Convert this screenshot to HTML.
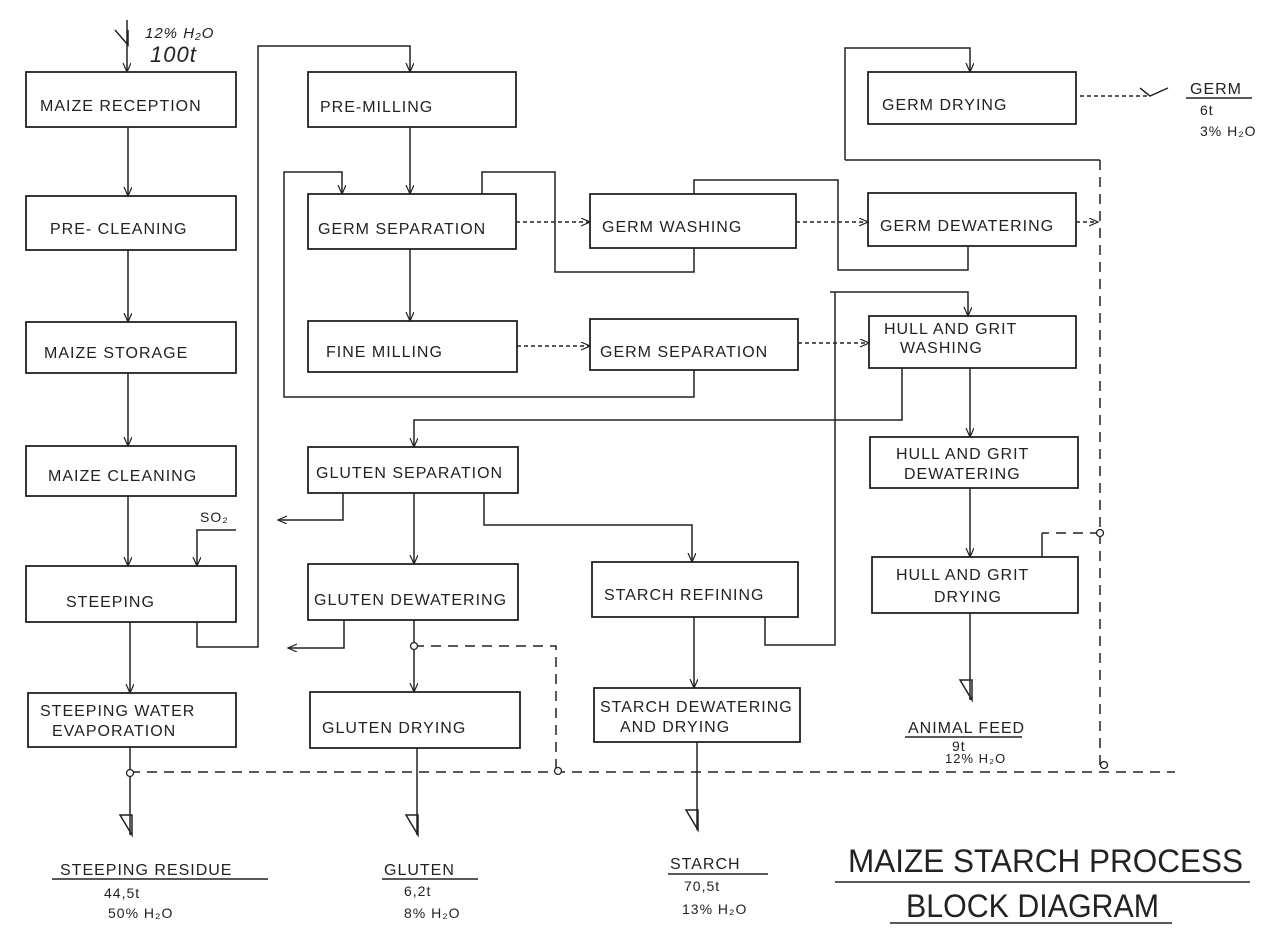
<!DOCTYPE html>
<html><head><meta charset="utf-8"><style>
html,body{margin:0;padding:0;background:#fff}
svg{display:block}
text{font-family:"Liberation Sans",sans-serif;fill:#222;font-size:16px;letter-spacing:1px}
.b{fill:none;stroke:#222;stroke-width:1.8}
.l{fill:none;stroke:#222;stroke-width:1.5}
.d{fill:none;stroke:#222;stroke-width:1.5;stroke-dasharray:10 7}
.s{fill:none;stroke:#222;stroke-width:1.5;stroke-dasharray:4 3}
</style></head><body>
<svg width="1280" height="946" viewBox="0 0 1280 946" xmlns="http://www.w3.org/2000/svg">
<defs><marker id="a" markerWidth="10" markerHeight="10" refX="9" refY="4" orient="auto" markerUnits="userSpaceOnUse"><path d="M0,0 L9,4 L0,8" fill="none" stroke="#222" stroke-width="1.2"/></marker></defs>
<g class="b">
<rect x="26" y="72" width="210" height="55"/><rect x="26" y="196" width="210" height="54"/>
<rect x="26" y="322" width="210" height="51"/><rect x="26" y="446" width="210" height="50"/>
<rect x="26" y="566" width="210" height="56"/><rect x="28" y="693" width="208" height="54"/>
<rect x="308" y="72" width="208" height="55"/><rect x="308" y="194" width="208" height="55"/>
<rect x="308" y="321" width="209" height="51"/><rect x="308" y="447" width="210" height="46"/>
<rect x="308" y="564" width="210" height="56"/><rect x="310" y="692" width="210" height="56"/>
<rect x="590" y="194" width="206" height="54"/><rect x="590" y="319" width="208" height="51"/>
<rect x="592" y="562" width="206" height="55"/><rect x="594" y="688" width="206" height="54"/>
<rect x="868" y="72" width="208" height="52"/><rect x="868" y="193" width="208" height="53"/>
<rect x="869" y="316" width="207" height="52"/><rect x="870" y="437" width="208" height="51"/>
<rect x="872" y="557" width="206" height="56"/>
</g>
<text x="40" y="111">MAIZE RECEPTION</text><text x="50" y="234">PRE- CLEANING</text>
<text x="44" y="358">MAIZE STORAGE</text><text x="48" y="481">MAIZE CLEANING</text>
<text x="66" y="607">STEEPING</text><text x="40" y="716">STEEPING WATER</text><text x="52" y="736">EVAPORATION</text>
<text x="320" y="112">PRE-MILLING</text><text x="318" y="234">GERM SEPARATION</text>
<text x="326" y="357">FINE MILLING</text><text x="316" y="478">GLUTEN SEPARATION</text>
<text x="314" y="605">GLUTEN DEWATERING</text><text x="322" y="733">GLUTEN DRYING</text>
<text x="602" y="232">GERM WASHING</text><text x="600" y="357">GERM SEPARATION</text>
<text x="604" y="600">STARCH REFINING</text><text x="600" y="712">STARCH DEWATERING</text><text x="620" y="732">AND DRYING</text>
<text x="882" y="110">GERM DRYING</text><text x="880" y="231">GERM DEWATERING</text>
<text x="884" y="334">HULL AND GRIT</text><text x="900" y="353">WASHING</text>
<text x="896" y="459">HULL AND GRIT</text><text x="904" y="479">DEWATERING</text>
<text x="896" y="580">HULL AND GRIT</text><text x="934" y="602">DRYING</text>
<path class="l" d="M127,20 V72" marker-end="url(#a)"/><path class="l" d="M115,30 L128,45 L128,30"/>
<text x="145" y="38" style="font-style:italic;font-size:15px">12% H₂O</text>
<text x="150" y="62" style="font-style:italic;font-size:22px">100t</text>
<g class="l">
<path d="M128,127 V196" marker-end="url(#a)"/><path d="M128,250 V322" marker-end="url(#a)"/>
<path d="M128,373 V446" marker-end="url(#a)"/><path d="M128,496 V566" marker-end="url(#a)"/>
<path d="M130,622 V693" marker-end="url(#a)"/>
<path d="M236,530 H197 V566" marker-end="url(#a)"/>
<path d="M197,622 V647 H258 V46 H410 V72" marker-end="url(#a)"/>
<path d="M130,747 V835"/><path d="M120,815 L132,835 L132,815 Z"/>
<path d="M410,127 V194" marker-end="url(#a)"/><path d="M410,249 V321" marker-end="url(#a)"/>
<path d="M694,370 V397 H284 V172 H342 V194" marker-end="url(#a)"/>
<path d="M482,194 V172 H555 V272 H694 V248" />
<path d="M694,194 V180 H838 V270 H968 V246" />
<path d="M845,160 V48 H970 V72" marker-end="url(#a)"/>
<path d="M845,160 H1100"/>
<path d="M830,292 H968 V316" marker-end="url(#a)"/>
<path d="M835,292 V645 H765 V617"/>
<path d="M902,368 V420 H414 V447" marker-end="url(#a)"/>
<path d="M970,368 V437" marker-end="url(#a)"/><path d="M970,488 V557" marker-end="url(#a)"/>
<path d="M970,613 V700"/><path d="M960,680 L972,700 L972,680 Z"/>
<path d="M1042,557 V533" />
<path d="M343,493 V520 H278" marker-end="url(#a)"/>
<path d="M414,493 V564" marker-end="url(#a)"/>
<path d="M484,493 V525 H692 V562" marker-end="url(#a)"/>
<path d="M344,620 V648 H288" marker-end="url(#a)"/>
<path d="M414,620 V692" marker-end="url(#a)"/>
<path d="M417,748 V835"/><path d="M406,815 L418,835 L418,815 Z"/>
<path d="M694,617 V688" marker-end="url(#a)"/>
<path d="M697,742 V830"/><path d="M686,810 L698,830 L698,810 Z"/>
<path d="M1140,88 L1150,96 L1168,88" />
</g>
<g class="s">
<path d="M516,222 H590" marker-end="url(#a)"/><path d="M796,222 H868" marker-end="url(#a)"/>
<path d="M1076,222 H1098" marker-end="url(#a)"/>
<path d="M517,346 H590" marker-end="url(#a)"/><path d="M798,343 H869" marker-end="url(#a)"/>
<path d="M1080,96 H1150"/>
</g>
<g class="d">
<path d="M1100,160 V765"/><path d="M1100,533 H1042"/>
<path d="M414,646 H556 V770"/>
<path d="M130,772 H1175"/>
</g>
<g fill="#fff" stroke="#222" stroke-width="1.3">
<circle cx="130" cy="773" r="3.5"/><circle cx="558" cy="771" r="3.5"/><circle cx="1104" cy="765" r="3.5"/>
<circle cx="1100" cy="533" r="3.5"/><circle cx="414" cy="646" r="3.5"/>
</g>
<text x="200" y="522" style="font-size:14px">SO₂</text>
<text x="60" y="875">STEEPING RESIDUE</text><path class="l" d="M52,879 H268"/>
<text x="104" y="898" style="font-size:14px">44,5t</text><text x="108" y="918" style="font-size:14px">50% H₂O</text>
<text x="384" y="875">GLUTEN</text><path class="l" d="M382,879 H478"/>
<text x="404" y="896" style="font-size:14px">6,2t</text><text x="404" y="918" style="font-size:14px">8% H₂O</text>
<text x="670" y="869">STARCH</text><path class="l" d="M668,874 H768"/>
<text x="684" y="891" style="font-size:14px">70,5t</text><text x="682" y="914" style="font-size:14px">13% H₂O</text>
<text x="908" y="733">ANIMAL FEED</text><path class="l" d="M905,737 H1022"/>
<text x="952" y="751" style="font-size:14px">9t</text><text x="945" y="763" style="font-size:13px">12% H₂O</text>
<text x="1190" y="94">GERM</text><path class="l" d="M1186,98 H1252"/>
<text x="1200" y="115" style="font-size:14px">6t</text><text x="1200" y="136" style="font-size:14px">3% H₂O</text>
<text x="848" y="872" textLength="395" lengthAdjust="spacingAndGlyphs" style="font-size:32px;letter-spacing:0">MAIZE STARCH PROCESS</text>
<path class="l" d="M835,882 H1250"/>
<text x="906" y="917" textLength="253" lengthAdjust="spacingAndGlyphs" style="font-size:32px;letter-spacing:0">BLOCK DIAGRAM</text>
<path class="l" d="M890,923 H1172"/>
</svg>
</body></html>
